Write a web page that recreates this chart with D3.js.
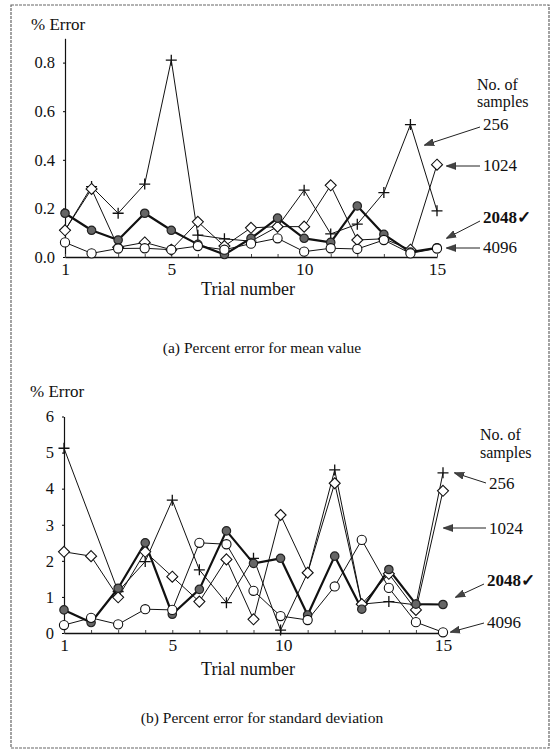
<!DOCTYPE html>
<html>
<head>
<meta charset="utf-8">
<script src="https://cdn.jsdelivr.net/npm/d3@7"></script>
<style>
  body { margin: 0; background: #fff; }
  text { font-family: "Liberation Serif", "Times New Roman", serif; fill: #111; }
</style>
</head>
<body>
<div id="chart"></div>
<script>
// trial numbers along the x axis
var trials = [1, 2, 3, 4, 5, 6, 7, 8, 9, 10, 11, 12, 13, 14, 15];
var sampleSizes = ["256", "1024", "2048", "4096"];

// (a) percent error for mean value
var meanErr256  = [0.11, 0.29, 0.18, 0.30, 0.81, 0.09, 0.075, 0.065, 0.125, 0.275, 0.095, 0.135, 0.265, 0.545, 0.19];
var meanErr1024 = [0.11, 0.28, 0.04, 0.06, 0.03, 0.145, 0.045, 0.12, 0.125, 0.125, 0.295, 0.07, 0.075, 0.03, 0.38];
var meanErr2048 = [0.18, 0.11, 0.07, 0.18, 0.11, 0.052, 0.01, 0.077, 0.16, 0.077, 0.06, 0.21, 0.093, 0.02, 0.038];
var meanErr4096 = [0.06, 0.015, 0.035, 0.036, 0.03, 0.045, 0.03, 0.055, 0.077, 0.022, 0.036, 0.033, 0.07, 0.015, 0.035];

// (b) percent error for standard deviation (256 has no mark at trial 2)
var sdErr256  = [5.12, null, 1.15, 1.98, 3.68, 1.75, 0.84, 2.07, 0.08, 1.67, 4.52, 0.80, 0.87, 0.78, 4.44];
var sdErr1024 = [2.25, 2.13, 0.99, 2.25, 1.56, 0.87, 2.04, 0.38, 3.27, 1.67, 4.15, 0.80, 1.64, 0.64, 3.94];
var sdErr2048 = [0.64, 0.29, 1.24, 2.50, 0.52, 1.21, 2.83, 1.93, 2.07, 0.50, 2.13, 0.66, 1.76, 0.80, 0.79];
var sdErr4096 = [0.22, 0.42, 0.24, 0.66, 0.64, 2.50, 2.46, 1.17, 0.47, 0.36, 1.29, 2.58, 1.25, 0.30, 0.02];

var meanYTicks = [0, 0.2, 0.4, 0.6, 0.8];
var sdYTicks = [0, 1, 2, 3, 4, 5, 6];
var xTickText = ["1", "5", "10", "15"];
var meanXTickPos = [1, 5, 10, 15];
var sdXTickPos = [1, 5, 9.1, 15];   // the "10" sits under the 9th trial in the figure

var legendTitle = ["No. of", "samples"];
var legendLabels = ["256", "1024", "2048\u2713", "4096"];

var width = 555, height = 753;

var svg = d3.select('#chart').append('svg')
    .attr('width', width)
    .attr('height', height);

svg.append('defs').append('marker')
    .attr('id', 'arrow')
    .attr('viewBox', '0 0 10 8')
    .attr('refX', 9)
    .attr('refY', 4)
    .attr('markerWidth', 10)
    .attr('markerHeight', 8)
    .attr('markerUnits', 'userSpaceOnUse')
    .attr('orient', 'auto')
    .append('path')
    .attr('d', 'M0,0.5 L10,4 L0,7.5 Z')
    .attr('fill', '#444')
    .attr('stroke', '#222')
    .attr('stroke-width', 0.6);

// outer frame
svg.append('rect')
    .attr('x', 11).attr('y', 5)
    .attr('width', 538).attr('height', 743)
    .attr('fill', 'none')
    .attr('stroke', '#666')
    .attr('stroke-width', 1.2)
    .attr('stroke-dasharray', '3 1');

var panels = [
    {
        series: [meanErr256, meanErr1024, meanErr2048, meanErr4096],
        xRange: [65, 437], yRange: [257, 38.3], yDomain: [0, 0.9],
        yTicks: meanYTicks, yFmt: d3.format('.1f'), xTickPos: meanXTickPos,
        ylabelY: 30, xlabelY: 295, caption: "(a) Percent error for mean value", captionY: 353,
        legendX: 477, legendY: [90, 107],
        legend: [
            { y: 130, x1: 480, y1: 127, x2: 425, y2: 145 },
            { y: 171, x1: 480, y1: 166, x2: 447, y2: 166 },
            { y: 223, x1: 480, y1: 221, x2: 447, y2: 238 },
            { y: 253, x1: 480, y1: 248, x2: 447, y2: 248 }
        ]
    },
    {
        series: [sdErr256, sdErr1024, sdErr2048, sdErr4096],
        xRange: [64, 443], yRange: [633, 416.5], yDomain: [0, 6],
        yTicks: sdYTicks, yFmt: d3.format('d'), xTickPos: sdXTickPos,
        ylabelY: 397, xlabelY: 675, caption: "(b) Percent error for standard deviation", captionY: 723,
        legendX: 480, legendY: [440, 458],
        legend: [
            { y: 489, x1: 486, y1: 483, x2: 455, y2: 473 },
            { y: 534, x1: 486, y1: 528, x2: 444, y2: 528 },
            { y: 586, x1: 484, y1: 584, x2: 456, y2: 597 },
            { y: 628, x1: 484, y1: 623, x2: 451, y2: 632 }
        ]
    }
];

panels.forEach(drawPanel);

function drawPanel(p) {
    var x = d3.scaleLinear().domain([1, 15]).range(p.xRange);
    var y = d3.scaleLinear().domain(p.yDomain).range(p.yRange);
    var g = svg.append('g');

    // y axis
    var yAxis = g.append('g')
        .attr('transform', 'translate(' + p.xRange[0] + ',0)')
        .call(d3.axisLeft(y).tickValues(p.yTicks).tickFormat(p.yFmt).tickSize(2).tickSizeOuter(0).tickPadding(8));
    yAxis.attr('font-family', null);
    yAxis.select('.domain').attr('stroke', '#111').attr('stroke-width', 1.2);
    yAxis.selectAll('text').style('font-size', '16.5px');

    // x axis: small ticks at every trial, numbers at a few
    var xAxis = g.append('g')
        .attr('transform', 'translate(0,' + p.yRange[0] + ')')
        .call(d3.axisBottom(x).tickValues(trials).tickFormat('').tickSize(-3).tickSizeOuter(0));
    xAxis.select('.domain').attr('stroke', '#111').attr('stroke-width', 1.4);
    xAxis.selectAll('.tick line').attr('stroke', '#444');

    var xLab = g.append('g')
        .attr('transform', 'translate(0,' + p.yRange[0] + ')')
        .call(d3.axisBottom(x).tickValues(p.xTickPos).tickFormat(function (d, i) { return xTickText[i]; }).tickSize(0).tickPadding(6));
    xLab.attr('font-family', null);
    xLab.select('.domain').remove();
    xLab.selectAll('text').style('font-size', '17.5px');

    g.append('text')
        .attr('x', p.xRange[0] - 34)
        .attr('y', p.ylabelY)
        .style('font-size', '17px')
        .text('% Error');

    g.append('text')
        .attr('x', 248)
        .attr('y', p.xlabelY)
        .attr('text-anchor', 'middle')
        .style('font-size', '18px')
        .text('Trial number');

    g.append('text')
        .attr('x', 262)
        .attr('y', p.captionY)
        .attr('text-anchor', 'middle')
        .style('font-size', '15.5px')
        .text(p.caption);

    // lines
    var line = d3.line()
        .x(function (d) { return x(d.t); })
        .y(function (d) { return y(d.v); });

    p.series.forEach(function (vals, si) {
        var pts = trials.map(function (t, i) { return { t: t, v: vals[i] }; })
            .filter(function (d) { return d.v !== null; });
        g.append('path')
            .datum(pts)
            .attr('d', line)
            .attr('fill', 'none')
            .attr('stroke', '#111')
            .attr('stroke-width', si === 2 ? 2.2 : 1)
            .attr('stroke-linejoin', 'round');
    });

    // markers, drawn after all lines
    p.series.forEach(function (vals, si) {
        var pts = trials.map(function (t, i) { return { t: t, v: vals[i] }; })
            .filter(function (d) { return d.v !== null; });
        var m = g.append('g').selectAll('g')
            .data(pts)
            .enter().append('g')
            .attr('transform', function (d) { return 'translate(' + x(d.t) + ',' + y(d.v) + ')'; });
        if (si === 0) {
            m.append('path')
                .attr('d', 'M-5.5,0H5.5M0,-5.5V5.5')
                .attr('stroke', '#111')
                .attr('stroke-width', 1.3);
        } else if (si === 1) {
            m.append('path')
                .attr('d', 'M0,-5.5L5.5,0L0,5.5L-5.5,0Z')
                .attr('fill', '#fff')
                .attr('stroke', '#111')
                .attr('stroke-width', 1.1);
        } else if (si === 2) {
            m.append('circle')
                .attr('r', 4.2)
                .attr('fill', '#666')
                .attr('stroke', '#222')
                .attr('stroke-width', 1.2);
        } else {
            m.append('circle')
                .attr('r', 4.6)
                .attr('fill', '#fff')
                .attr('stroke', '#111')
                .attr('stroke-width', 1.1);
        }
    });

    // legend with arrows
    legendTitle.forEach(function (t, i) {
        g.append('text')
            .attr('x', p.legendX)
            .attr('y', p.legendY[i])
            .style('font-size', '16px')
            .text(t);
    });
    p.legend.forEach(function (l, i) {
        g.append('line')
            .attr('x1', l.x1).attr('y1', l.y1)
            .attr('x2', l.x2).attr('y2', l.y2)
            .attr('stroke', '#222')
            .attr('stroke-width', 1)
            .attr('marker-end', 'url(#arrow)');
        g.append('text')
            .attr('x', l.x1 + 3)
            .attr('y', l.y)
            .style('font-size', '17px')
            .style('font-weight', i === 2 ? 700 : 400)
            .text(legendLabels[i]);
    });
}
</script>
</body>
</html>
